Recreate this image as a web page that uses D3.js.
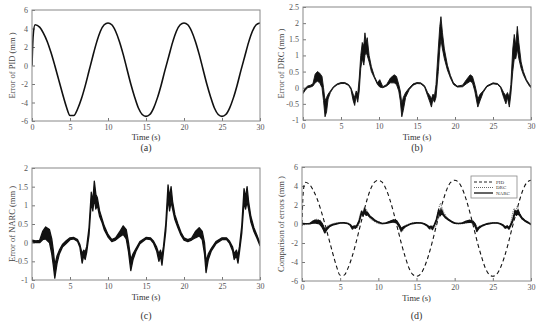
<!DOCTYPE html>
<html>
<head>
<meta charset="utf-8">
<script src="https://cdn.jsdelivr.net/npm/d3@7"></script>
<style>
  body { margin: 0; background: #fff; }
  svg { display: block; }
  text { font-family: "Liberation Serif", "Times New Roman", serif; }
</style>
</head>
<body>
<svg id="chart" width="550" height="327"></svg>
<script>
// PID error (mm)
const pidTime = [0, 0.15, 0.4, 1, 1.5, 2, 2.5, 3, 3.5, 4, 4.5, 5, 5.5, 6, 6.5, 7, 7.5, 8, 8.5, 9, 9.5,
  10, 10.5, 11, 11.5, 12, 12.5, 13, 13.5, 14, 14.5, 15, 15.5, 16, 16.5, 17, 17.5, 18, 18.5, 19, 19.5,
  20, 20.5, 21, 21.5, 22, 22.5, 23, 23.5, 24, 24.5, 25, 25.5, 26, 26.5, 27, 27.5, 28, 28.5, 29, 29.5, 30];
const pidError = [0, 3.2, 4.4, 4.15, 3.5, 2.6, 1.4, 0.0, -1.5, -3.0, -4.4, -5.4, -5.4, -4.7, -3.6, -2.2, -0.6, 1.0, 2.5, 3.7, 4.4,
  4.6, 4.4, 3.7, 2.6, 1.2, -0.4, -2.0, -3.4, -4.6, -5.3, -5.5, -5.3, -4.6, -3.5, -2.1, -0.5, 1.0, 2.5, 3.7, 4.4,
  4.6, 4.4, 3.7, 2.6, 1.2, -0.4, -2.0, -3.4, -4.6, -5.3, -5.5, -5.3, -4.6, -3.5, -2.1, -0.5, 1.0, 2.5, 3.7, 4.4, 4.6];

// DRC error: lower / upper edge of the chattering band, panel (b)
const drcTime = [0, 0.3, 0.6, 1, 1.3, 1.6, 1.9, 2.2, 2.5, 2.7, 2.9, 3.1, 3.3, 3.6, 4, 4.5, 5, 5.5, 6, 6.3, 6.6, 6.8, 7, 7.2, 7.4,
  7.6, 7.8, 8, 8.15, 8.3, 8.45, 8.7, 9, 9.4, 9.8, 10.1, 10.5, 11, 11.5, 12, 12.3, 12.6, 12.8, 13, 13.2, 13.5, 14, 14.5, 15,
  15.5, 16, 16.4, 16.7, 16.9, 17.1, 17.3, 17.5, 17.8, 18, 18.15, 18.35, 18.6, 19, 19.4, 19.8, 20.3, 21, 21.5, 22, 22.3,
  22.6, 22.8, 23, 23.3, 23.7, 24.2, 25, 25.6, 26, 26.4, 26.7, 26.9, 27.15, 27.35, 27.6, 27.8, 28, 28.2, 28.4, 28.7, 29,
  29.4, 29.8, 30];
const drcLow = [-0.18, -0.08, 0.0, 0.02, 0.05, 0.15, 0.2, 0.15, 0.0, -0.4, -0.9, -0.75, -0.35, -0.15, 0.0, 0.09, 0.13, 0.13, 0.07, -0.05, -0.4, -0.55, -0.25, -0.45, -0.1,
  0.6, 0.9, 0.7, 1.0, 1.1, 1.0, 0.8, 0.5, 0.3, 0.1, 0.02, 0.0, 0.05, 0.15, 0.15, 0.1, -0.1, -0.4, -0.9, -0.7, -0.3, -0.05, 0.08, 0.13,
  0.12, 0.02, -0.25, -0.45, -0.6, -0.35, -0.45, -0.3, 0.5, 1.2, 1.5, 1.2, 0.9, 0.55, 0.3, 0.1, 0.02, 0.03, 0.12, 0.2, 0.15,
  -0.1, -0.35, -0.6, -0.4, -0.15, 0.03, 0.12, 0.1, 0.0, -0.3, -0.5, -0.3, -0.6, -0.2, 0.5, 0.9, 0.9, 1.2, 0.9, 0.6, 0.4,
  0.2, 0.05, 0.0];
const drcHigh = [-0.12, -0.02, 0.05, 0.08, 0.12, 0.42, 0.5, 0.45, 0.35, 0.0, -0.4, -0.3, -0.2, -0.1, 0.03, 0.12, 0.16, 0.16, 0.1, 0.0, -0.2, -0.3, -0.1, -0.2, 0.3,
  1.0, 1.4, 1.3, 1.7, 1.4, 1.55, 1.0, 0.65, 0.35, 0.15, 0.25, 0.03, 0.1, 0.3, 0.4, 0.35, 0.1, -0.1, -0.5, -0.3, -0.15, 0.0, 0.12, 0.16,
  0.15, 0.06, -0.15, -0.25, -0.35, -0.2, -0.25, 0.1, 1.2, 1.9, 2.2, 1.7, 1.2, 0.7, 0.38, 0.15, 0.05, 0.08, 0.25, 0.4, 0.35,
  0.1, -0.1, -0.35, -0.2, -0.1, 0.06, 0.15, 0.13, 0.04, -0.15, -0.25, -0.15, -0.3, 0.1, 1.2, 1.65, 1.3, 1.9, 1.4, 0.8, 0.5,
  0.25, 0.1, 0.05];

// NARC error: lower / upper edge of the band, panel (c)
const narcTime = [0, 0.5, 1, 1.4, 1.8, 2.3, 2.6, 2.8, 3, 3.3, 3.6, 4, 4.5, 5, 5.5, 6, 6.3, 6.6, 6.8, 7, 7.2, 7.5,
  7.8, 8, 8.2, 8.4, 8.6, 8.9, 9.2, 9.5, 10, 10.5, 11, 11.5, 12, 12.4, 12.7, 13, 13.3, 13.7, 14.2, 15, 15.6, 16, 16.4,
  16.7, 16.9, 17.1, 17.3, 17.6, 17.9, 18.1, 18.3, 18.5, 18.8, 19.2, 19.6, 20, 20.5, 21, 21.5, 22, 22.4, 22.7, 22.9,
  23.2, 23.6, 24.2, 25, 25.6, 26, 26.4, 26.6, 26.9, 27.1, 27.3, 27.6, 27.9, 28.1, 28.3, 28.5, 28.8, 29.2, 29.6, 30];
const narcLow = [0.02, 0.0, 0.0, 0.08, 0.1, 0.0, -0.3, -0.6, -0.95, -0.55, -0.3, -0.12, -0.02, 0.08, 0.1, 0.03, -0.12, -0.55, -0.35, -0.45, -0.25, 0.2,
  1.1, 0.85, 1.2, 0.9, 1.0, 0.7, 0.55, 0.35, 0.15, 0.03, 0.07, 0.15, 0.22, 0.1, -0.25, -0.75, -0.45, -0.22, -0.03, 0.1, 0.08, -0.02, -0.22,
  -0.5, -0.35, -0.6, -0.25, 0.3, 1.2, 0.85, 1.1, 0.9, 0.62, 0.4, 0.2, 0.07, 0.03, 0.07, 0.13, 0.18, 0.08, -0.3, -0.8,
  -0.45, -0.22, -0.03, 0.08, 0.08, -0.02, -0.22, -0.45, -0.35, -0.55, -0.25, 0.25, 1.1, 0.9, 1.1, 0.9, 0.55, 0.3, 0.12, -0.08];
const narcHigh = [0.07, 0.05, 0.06, 0.3, 0.42, 0.35, 0.1, -0.2, -0.6, -0.35, -0.2, -0.05, 0.05, 0.13, 0.14, 0.08, -0.05, -0.3, -0.2, -0.25, -0.1, 0.4,
  1.35, 1.1, 1.65, 1.3, 1.2, 0.85, 0.65, 0.45, 0.22, 0.08, 0.13, 0.28, 0.45, 0.35, 0.0, -0.45, -0.3, -0.15, 0.03, 0.14, 0.13, 0.04, -0.12,
  -0.3, -0.2, -0.35, -0.1, 0.5, 1.55, 1.2, 1.5, 1.1, 0.75, 0.5, 0.28, 0.13, 0.08, 0.12, 0.3, 0.4, 0.3, 0.0, -0.5,
  -0.3, -0.15, 0.03, 0.13, 0.13, 0.04, -0.12, -0.3, -0.2, -0.35, -0.1, 0.45, 1.45, 1.2, 1.5, 1.1, 0.7, 0.4, 0.2, -0.02];

const timeTicks = [0, 5, 10, 15, 20, 25, 30];
const legendNames = ['PID', 'DRC', 'NARC'];

const svg = d3.select('#chart');

const pid = pidTime.map((t, i) => ({ t, v: pidError[i] }));
const drc = drcTime.map((t, i) => ({ t, lo: drcLow[i], hi: drcHigh[i] }));
const narc = narcTime.map((t, i) => ({ t, lo: narcLow[i], hi: narcHigh[i] }));

function panel(cfg) {
  const g = svg.append('g');
  const x = d3.scaleLinear().domain([0, 30]).range([cfg.x0, cfg.x1]);
  const y = d3.scaleLinear().domain(cfg.yDomain).range([cfg.y1, cfg.y0]);

  const clipId = 'clip-' + cfg.name;
  g.append('clipPath').attr('id', clipId)
    .append('rect').attr('x', cfg.x0).attr('y', cfg.y0)
    .attr('width', cfg.x1 - cfg.x0).attr('height', cfg.y1 - cfg.y0);

  // axes with inward ticks
  const xAxis = d3.axisBottom(x).tickValues(timeTicks).tickSize(-3).tickPadding(3).tickFormat(d3.format('d'));
  const yAxis = d3.axisLeft(y).tickValues(cfg.yTicks).tickSize(-3).tickPadding(4).tickFormat(d => String(d));
  const gx = g.append('g').attr('transform', `translate(0,${cfg.y1})`).call(xAxis);
  const gy = g.append('g').attr('transform', `translate(${cfg.x0},0)`).call(yAxis);
  [gx, gy].forEach(a => {
    a.select('.domain').remove();
    a.selectAll('line').attr('stroke', '#777');
    a.selectAll('text').attr('fill', '#555').style('font-size', '8px');
  });

  const plot = g.append('g').attr('clip-path', `url(#${clipId})`);
  cfg.draw(plot, x, y);

  g.append('rect')
    .attr('x', cfg.x0).attr('y', cfg.y0)
    .attr('width', cfg.x1 - cfg.x0).attr('height', cfg.y1 - cfg.y0)
    .attr('fill', 'none').attr('stroke', '#888').attr('stroke-width', 1);

  const cx = (cfg.x0 + cfg.x1) / 2;
  g.append('text').attr('x', cx).attr('y', cfg.y1 + cfg.timeDy)
    .attr('text-anchor', 'middle').style('font-size', '8.5px').attr('fill', '#333')
    .text('Time (s)');
  g.append('text').attr('x', cx).attr('y', cfg.captionY)
    .attr('text-anchor', 'middle').style('font-size', '10px').attr('fill', '#333')
    .text(cfg.caption);
  g.append('text')
    .attr('transform', `translate(${cfg.labelX},${(cfg.y0 + cfg.y1) / 2}) rotate(-90)`)
    .attr('text-anchor', 'middle').style('font-size', '8.5px').attr('fill', '#444')
    .text(cfg.ylabel);
}

function bandArea(x, y) {
  return d3.area().x(d => x(d.t)).y0(d => y(d.lo)).y1(d => y(d.hi));
}

function drawPid(sel, x, y, dash, width) {
  sel.append('path').datum(pid)
    .attr('d', d3.line().x(d => x(d.t)).y(d => y(d.v)).curve(d3.curveMonotoneX))
    .attr('fill', 'none').attr('stroke', '#111').attr('stroke-width', width)
    .attr('stroke-dasharray', dash);
}

function drawBand(sel, data, x, y, color, width, dash) {
  sel.append('path').datum(data)
    .attr('d', bandArea(x, y))
    .attr('fill', dash ? 'none' : color)
    .attr('stroke', color).attr('stroke-width', width)
    .attr('stroke-dasharray', dash || null)
    .attr('stroke-linejoin', 'round');
}

panel({
  name: 'a', x0: 32, x1: 260, y0: 10, y1: 121,
  yDomain: [-6, 6], yTicks: [-6, -4, -2, 0, 2, 4, 6],
  ylabel: 'Error of PID (mm )', labelX: 15, caption: '(a)', captionY: 151, timeDy: 19,
  draw: (p, x, y) => drawPid(p, x, y, null, 1.6)
});

panel({
  name: 'b', x0: 303, x1: 531, y0: 7, y1: 120,
  yDomain: [-1, 2.5], yTicks: [-1, -0.5, 0, 0.5, 1, 1.5, 2, 2.5],
  ylabel: 'Error of DRC (mm )', labelX: 284, caption: '(b)', captionY: 151, timeDy: 20,
  draw: (p, x, y) => drawBand(p, drc, x, y, '#111', 0.9)
});

panel({
  name: 'c', x0: 32, x1: 260, y0: 168, y1: 280,
  yDomain: [-1, 2], yTicks: [-1, -0.5, 0, 0.5, 1, 1.5, 2],
  ylabel: 'Error of NARC (mm )', labelX: 15, caption: '(c)', captionY: 319, timeDy: 20,
  draw: (p, x, y) => drawBand(p, narc, x, y, '#111', 1.3)
});

panel({
  name: 'd', x0: 302, x1: 531, y0: 167, y1: 281,
  yDomain: [-6, 6], yTicks: [-6, -4, -2, 0, 2, 4, 6],
  ylabel: 'Comparison of errors (mm )', labelX: 284, caption: '(d)', captionY: 319, timeDy: 20,
  draw: (p, x, y) => {
    drawPid(p, x, y, '4,3', 1.1);
    drawBand(p, drc, x, y, '#666', 1, '1,1');
    drawBand(p, narc, x, y, '#111', 1.2);
  }
});

// legend for panel (d)
const lg = svg.append('g').attr('transform', 'translate(471,176)');
lg.append('rect').attr('width', 46).attr('height', 22)
  .attr('fill', '#fff').attr('stroke', '#888').attr('stroke-width', 0.8);
const legendStyles = [
  { dash: '3,2', color: '#222', w: 1 },
  { dash: '1,1', color: '#666', w: 1 },
  { dash: null, color: '#222', w: 1.4 }
];
legendNames.forEach((name, i) => {
  const yy = 6 + i * 5.5;
  lg.append('line').attr('x1', 3).attr('x2', 22).attr('y1', yy).attr('y2', yy)
    .attr('stroke', legendStyles[i].color).attr('stroke-width', legendStyles[i].w)
    .attr('stroke-dasharray', legendStyles[i].dash);
  lg.append('text').attr('x', 25).attr('y', yy + 1.8)
    .style('font-size', '5px').attr('fill', '#333').text(name);
});
</script>
</body>
</html>
